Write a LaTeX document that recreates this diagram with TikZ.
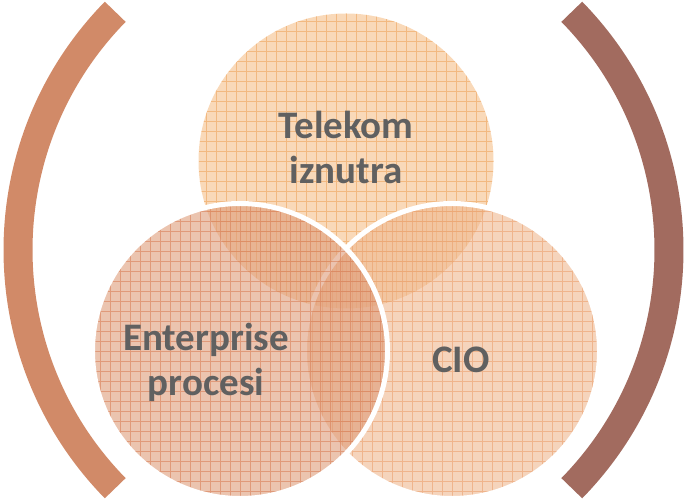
\documentclass[tikz,border=0pt]{standalone}
\usepackage{fontspec}
\setmainfont{Carlito}
\definecolor{arcL}{HTML}{D18A68}
\definecolor{arcR}{HTML}{A26B5F}
\definecolor{topC}{HTML}{F5C08A}
\definecolor{topG}{HTML}{EFA35C}
\definecolor{rgtC}{HTML}{EFB890}
\definecolor{rgtG}{HTML}{EBA06C}
\definecolor{lftC}{HTML}{DE9C7A}
\definecolor{lftG}{HTML}{D98058}
\definecolor{txt}{HTML}{606060}
\tikzset{
  venn/.style={circle, inner sep=0pt, minimum size=295pt, draw=white, line width=5pt, fill opacity=0.6, draw opacity=1},
  paren/.style={line width=29pt, line cap=butt},
  lbl/.style={font=\bfseries\fontsize{39}{45}\selectfont, text=txt, align=center, text opacity=1},
}
\begin{document}
\begin{tikzpicture}[x=1pt,y=-1pt]
\useasboundingbox (0,0) rectangle (685,502);
% parentheses
\draw[paren, arcL] (358.5,250) ++(135.6:340.5) arc[start angle=135.6, end angle=224.4, radius=340.5];
\draw[paren, arcR] (328.5,250) ++(44.4:340.5) arc[start angle=44.4, end angle=-44.4, radius=340.5];
% circles
\node[venn, draw=none, fill=topC, path picture={\draw[topG, line width=0.9pt, opacity=0.6, step=10pt] (path picture bounding box.south west) grid (path picture bounding box.north east);}] (ctop) at (346,161) {};
\node[venn, fill=rgtC, path picture={\draw[rgtG, line width=0.9pt, opacity=0.6, step=10pt] (path picture bounding box.south west) grid (path picture bounding box.north east);}] (cright) at (452,351) {};
\node[venn, fill=lftC, path picture={\draw[lftG, line width=0.9pt, opacity=0.6, step=10pt] (path picture bounding box.south west) grid (path picture bounding box.north east);}] (cleft) at (240,351) {};
% labels
\node[lbl] (ttop) at (346,147) {Telekom\\iznutra};
\node[lbl] (tleft) at (206,362) {Enterprise\\procesi};
\node[lbl] (tright) at (461,360) {CIO};
\end{tikzpicture}
\end{document}
